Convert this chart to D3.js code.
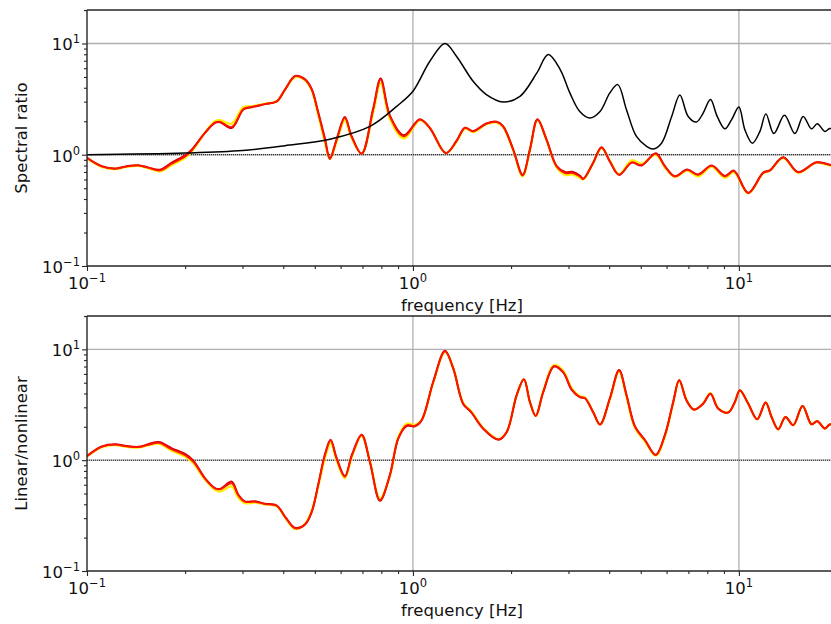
<!DOCTYPE html>
<html><head><meta charset="utf-8">
<script src="https://cdn.jsdelivr.net/npm/d3@7"></script>
<style>html,body{margin:0;padding:0;background:#fff;}svg{display:block;}</style>
</head><body>
<svg id="chart" width="831" height="624"></svg>
<script>
// ---------- data ----------
const xTickValues = [0.1, 1, 10];
const yTickValues = [0.1, 1, 10];
const tickExponents = ["\u22121", "0", "1"];
const xLabel = "frequency [Hz]";
const topYLabel = "Spectral ratio";
const bottomYLabel = "Linear/nonlinear";

// theoretical transfer function (black)
const theoFreq = [0.1,0.2,0.3,0.405,0.556,0.738,0.891,1.0,1.127,1.254,1.36,1.53,1.68,1.89,2.13,2.40,2.60,2.83,3.03,3.25,3.49,3.75,4.02,4.25,4.52,4.85,5.21,5.46,5.79,6.22,6.59,6.99,7.41,7.77,8.18,8.58,9.06,9.50,10.0,10.43,11.0,11.6,12.1,12.8,13.8,14.85,15.75,16.7,17.4,18.36,19.0,20];
const theoVal  = [1.0,1.035,1.09,1.205,1.38,1.80,2.72,3.72,6.92,10.0,7.69,4.57,3.47,2.98,3.35,5.44,7.95,5.83,3.60,2.45,2.14,2.45,3.60,4.27,2.54,1.46,1.19,1.125,1.27,2.21,3.45,2.21,1.97,2.37,3.13,2.21,1.71,2.07,2.69,1.68,1.27,1.62,2.33,1.55,2.26,1.55,2.21,1.71,1.90,1.62,1.72,1.68];

// spectral ratio, observed (top panel)
const topFreq = [0.1,0.111,0.122,0.1324,0.1437,0.154,0.1675,0.182,0.2,0.2095,0.230,0.247,0.256,0.278,0.302,0.32,0.352,0.382,0.405,0.435,0.466,0.489,0.512,0.537,0.556,0.585,0.618,0.648,0.696,0.755,0.796,0.85,0.938,1.05,1.127,1.262,
  1.36,1.444,1.53,1.68,1.806,1.89,2.03,2.17,2.285,2.41,2.57,2.76,2.93,3.10,3.25,3.33,3.57,3.79,4.02,4.29,4.69,5.03,5.56,5.93,6.36,6.94,7.50,8.25,9.06,9.65,10.68,11.87,12.45,13.68,15.2,17.3,19.0,20];
const topRed = [0.934,0.785,0.748,0.785,0.80,0.764,0.722,0.83,0.965,1.09,1.57,1.95,1.98,1.78,2.58,2.69,2.86,3.02,3.85,5.07,4.74,3.85,2.37,1.36,0.91,1.4,2.14,1.46,1.02,2.54,4.74,2.21,1.46,2.07,1.74,1.035,
  1.32,1.74,1.62,1.90,1.97,1.80,1.11,0.65,1.11,2.07,1.36,0.785,0.684,0.684,0.638,0.604,0.842,1.16,0.87,0.66,0.853,0.81,1.02,0.785,0.638,0.73,0.66,0.796,0.638,0.713,0.452,0.684,0.722,0.946,0.693,0.853,0.81,0.80];
const topYellow = [0.93,0.78,0.745,0.78,0.795,0.76,0.71,0.81,0.94,1.07,1.58,2.0,2.04,1.9,2.68,2.72,2.88,3.02,3.85,5.0,4.7,3.8,2.3,1.3,0.92,1.35,2.05,1.42,1.03,2.4,4.4,2.1,1.4,2.04,1.74,1.035,
  1.31,1.72,1.60,1.88,1.95,1.78,1.10,0.64,1.10,2.05,1.35,0.77,0.66,0.665,0.62,0.60,0.84,1.15,0.88,0.67,0.89,0.83,1.0,0.77,0.63,0.72,0.64,0.78,0.62,0.70,0.45,0.68,0.72,0.94,0.69,0.85,0.80,0.80];
const topDark = [0.94,0.79,0.752,0.79,0.805,0.77,0.735,0.85,0.99,1.11,1.57,1.93,1.96,1.74,2.55,2.67,2.85,3.02,3.85,5.1,4.78,3.9,2.42,1.4,0.93,1.42,2.18,1.48,1.02,2.6,4.85,2.25,1.5,2.09,1.74,1.035,
  1.33,1.75,1.63,1.91,1.98,1.81,1.12,0.66,1.12,2.08,1.37,0.79,0.70,0.70,0.65,0.61,0.845,1.17,0.87,0.66,0.85,0.80,1.03,0.79,0.64,0.735,0.665,0.80,0.645,0.72,0.455,0.69,0.725,0.95,0.70,0.855,0.815,0.805];

// linear / nonlinear (bottom panel)
const botFreq = [0.1,0.111,0.122,0.1324,0.1437,0.154,0.166,0.182,0.2,0.212,
  0.230,0.247,0.256,0.278,0.291,0.305,0.328,0.352,0.382,0.405,
  0.435,0.466,0.489,0.512,0.537,0.559,0.583,0.618,0.65,0.696,
  0.738,0.792,0.85,0.901,0.956,1.014,1.063,1.154,1.254,1.33,
  1.426,1.51,1.643,1.83,1.94,2.08,2.19,2.285,2.38,2.51,
  2.71,2.89,3.07,3.25,3.37,3.57,3.75,4.02,4.29,4.52,
  4.80,5.15,5.56,5.93,6.29,6.56,6.91,7.28,7.77,8.18,
  8.64,9.27,9.72,10.07,10.68,11.38,12.08,12.6,13.2,13.9,
  14.68,15.68,16.7,17.4,18.36,19.0,20];
const botRed = [1.086,1.32,1.38,1.33,1.31,1.37,1.43,1.25,1.11,0.965,
  0.684,0.556,0.545,0.617,0.484,0.421,0.421,0.402,0.388,0.308,
  0.242,0.263,0.342,0.596,1.11,1.51,1.035,0.707,1.11,1.68,
  0.965,0.436,0.733,1.57,2.07,2.04,2.29,5.07,9.6,6.7,
  3.24,2.72,1.93,1.54,1.80,3.85,5.37,3.35,2.51,4.12,
  7.07,6.25,4.36,3.72,3.64,2.72,2.10,3.60,6.47,3.85,
  2.0,1.51,1.11,1.68,3.35,5.26,3.47,2.86,3.24,3.99,
  2.92,2.69,3.35,4.27,3.24,2.34,3.31,2.45,1.90,2.45,
  2.07,3.08,2.11,2.25,1.93,2.10,2.05];
const botYellow = [1.08,1.31,1.37,1.32,1.30,1.36,1.41,1.22,1.08,0.94,
  0.67,0.54,0.52,0.58,0.46,0.41,0.415,0.40,0.385,0.305,
  0.24,0.265,0.35,0.58,1.05,1.42,1.0,0.69,1.08,1.65,
  0.98,0.45,0.72,1.6,2.13,2.08,2.3,5.0,9.5,6.75,
  3.28,2.75,1.95,1.55,1.80,3.85,5.37,3.35,2.51,4.18,
  7.2,6.4,4.45,3.78,3.68,2.72,2.10,3.55,6.3,3.75,
  1.95,1.48,1.10,1.65,3.3,5.2,3.5,2.85,3.25,4.02,
  2.95,2.7,3.35,4.25,3.24,2.34,3.31,2.45,1.90,2.45,
  2.07,3.08,2.11,2.25,1.93,2.10,2.05];
const botDark = [1.09,1.33,1.39,1.34,1.32,1.39,1.46,1.28,1.14,0.99,
  0.69,0.56,0.55,0.64,0.49,0.425,0.425,0.405,0.39,0.31,
  0.245,0.262,0.34,0.6,1.13,1.53,1.05,0.72,1.12,1.7,
  0.96,0.43,0.74,1.56,2.03,2.02,2.28,5.1,9.7,6.7,
  3.22,2.7,1.92,1.53,1.80,3.85,5.37,3.35,2.51,4.1,
  7.0,6.2,4.3,3.7,3.62,2.72,2.10,3.62,6.5,3.9,
  2.02,1.52,1.12,1.69,3.37,5.28,3.45,2.86,3.23,3.97,
  2.92,2.69,3.35,4.28,3.24,2.34,3.31,2.45,1.90,2.45,
  2.07,3.08,2.11,2.25,1.93,2.10,2.05];

// ---------- drawing ----------
const svg = d3.select("#chart").style("font-family", "'DejaVu Sans', sans-serif");
const left = 87, right = 837;
const x = d3.scaleLog().domain([0.1, 20]).range([left, right]);
const minorX = [];
[0.1, 1, 10].forEach(d => { for (let k = 2; k <= 9; k++) { const v = d * k; if (v <= 20) minorX.push(v); } });
minorX.push(20);
const minorY = [];
[0.1, 1, 10].forEach(d => { for (let k = 2; k <= 9; k++) { const v = d * k; if (v <= 20) minorY.push(v); } });
minorY.push(20);

const panels = [
  { top: 10, bottom: 266, ylabel: topYLabel,
    series: [
      { f: topFreq, v: topYellow, color: "#ffee00", w: 2.4 },
      { f: topFreq, v: topDark, color: "#d40000", w: 2.0 },
      { f: topFreq, v: topRed, color: "#ff1500", w: 1.7 },
      { f: theoFreq, v: theoVal, color: "#000000", w: 1.5 }
    ] },
  { top: 316, bottom: 571, ylabel: bottomYLabel,
    series: [
      { f: botFreq, v: botYellow, color: "#ffee00", w: 2.4 },
      { f: botFreq, v: botDark, color: "#d40000", w: 2.0 },
      { f: botFreq, v: botRed, color: "#ff1500", w: 1.7 }
    ] }
];

function expLabel(sel, exp) {
  sel.append("tspan").text("10");
  sel.append("tspan").attr("font-size", "11.5px").attr("dy", "-7").text(exp);
}

panels.forEach((p, pi) => {
  const y = d3.scaleLog().domain([0.1, 20]).range([p.bottom, p.top]);
  const g = svg.append("g");
  const clipId = "clip" + pi;
  svg.append("clipPath").attr("id", clipId).append("rect")
    .attr("x", left).attr("y", p.top).attr("width", right - left).attr("height", p.bottom - p.top);

  // grid
  g.selectAll(".gx").data(xTickValues.slice(1)).join("line")
    .attr("x1", d => x(d)).attr("x2", d => x(d)).attr("y1", p.top).attr("y2", p.bottom)
    .attr("stroke", "#b0b0b0").attr("stroke-width", 1.3);
  g.selectAll(".gy").data(yTickValues.slice(1)).join("line")
    .attr("x1", left).attr("x2", right).attr("y1", d => y(d)).attr("y2", d => y(d))
    .attr("stroke", "#b0b0b0").attr("stroke-width", 1.3);

  // reference line at 1
  g.append("line").attr("x1", left).attr("x2", right).attr("y1", y(1)).attr("y2", y(1))
    .attr("stroke", "#000").attr("stroke-width", 0.9).attr("stroke-dasharray", "1,1");

  // series
  const line = d3.line().x(d => x(d[0])).y(d => y(d[1])).curve(d3.curveCatmullRom.alpha(0.5));
  const lg = g.append("g").attr("clip-path", `url(#${clipId})`);
  p.series.forEach(s => {
    lg.append("path").datum(d3.zip(s.f, s.v)).attr("d", line)
      .attr("fill", "none").attr("stroke", s.color).attr("stroke-width", s.w)
      .attr("stroke-linejoin", "round").attr("stroke-linecap", "round");
  });

  // axes
  const axCol = "#262626";
  const xAx = g.append("g").attr("transform", `translate(0,${p.bottom})`)
    .call(d3.axisBottom(x).tickValues(xTickValues).tickSize(5).tickFormat(""));
  const xAxMin = g.append("g").attr("transform", `translate(0,${p.bottom})`)
    .call(d3.axisBottom(x).tickValues(minorX).tickSize(3).tickFormat(""));
  const yAx = g.append("g").attr("transform", `translate(${left},0)`)
    .call(d3.axisLeft(y).tickValues(yTickValues).tickSize(5).tickFormat(""));
  const yAxMin = g.append("g").attr("transform", `translate(${left},0)`)
    .call(d3.axisLeft(y).tickValues(minorY).tickSize(3).tickFormat(""));
  [xAx, xAxMin, yAx, yAxMin].forEach(a => {
    a.select(".domain").remove();
    a.selectAll(".tick line").attr("stroke", axCol).attr("stroke-width", 1.1);
  });
  // spines
  g.append("line").attr("x1", left).attr("x2", right).attr("y1", p.bottom).attr("y2", p.bottom).attr("stroke", axCol).attr("stroke-width", 1.4);
  g.append("line").attr("x1", left).attr("x2", right).attr("y1", p.top).attr("y2", p.top).attr("stroke", axCol).attr("stroke-width", 1.4);
  g.append("line").attr("x1", left).attr("x2", left).attr("y1", p.top).attr("y2", p.bottom).attr("stroke", axCol).attr("stroke-width", 1.4);
  g.append("line").attr("x1", right).attr("x2", right).attr("y1", p.top).attr("y2", p.bottom).attr("stroke", axCol).attr("stroke-width", 1.4);

  // tick labels
  xTickValues.forEach((v, i) => {
    const t = g.append("text").attr("x", x(v)).attr("y", p.bottom + 23)
      .attr("text-anchor", "middle").attr("font-size", "16.5px").attr("fill", "#111");
    expLabel(t, tickExponents[i]);
  });
  yTickValues.forEach((v, i) => {
    const t = g.append("text").attr("x", 80).attr("y", y(v) + 7)
      .attr("text-anchor", "end").attr("font-size", "16.5px").attr("fill", "#111");
    expLabel(t, tickExponents[i]);
  });

  // axis labels
  g.append("text").attr("x", (left + right) / 2).attr("y", p.bottom + 45)
    .attr("text-anchor", "middle").attr("font-size", "16.5px").attr("fill", "#111").text(xLabel);
  g.append("text").attr("transform", `translate(27,${(p.top + p.bottom) / 2}) rotate(-90)`)
    .attr("text-anchor", "middle").attr("font-size", "16.5px").attr("fill", "#111").text(p.ylabel);
});
</script>
</body></html>
